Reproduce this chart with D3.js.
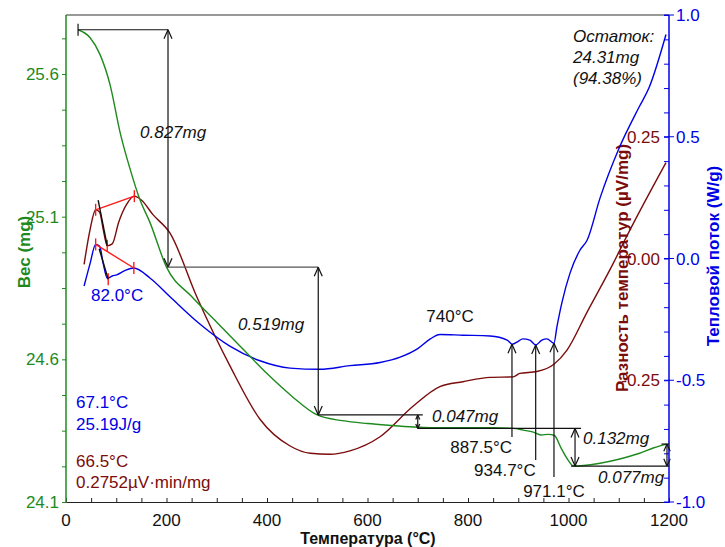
<!DOCTYPE html>
<html>
<head>
<meta charset="utf-8">
<script src="https://cdn.jsdelivr.net/npm/d3@7"></script>
<style>
  body { margin: 0; background: #fff; }
  svg text { font-family: "Liberation Sans", Arial, sans-serif; }
</style>
</head>
<body>
<div class="js-board"></div>
<script>
// TG curve: temperature (°C), mass (mg)
var tgT = [24, 48, 68, 88, 107, 127, 147, 167, 200, 250, 300, 350, 400, 450, 500, 550, 600, 650, 700, 750, 800, 850, 890, 910, 930, 945, 960, 972, 985, 1000, 1010, 1030, 1060, 1100, 1140, 1170, 1195];
var tgMass = [25.755, 25.727, 25.667, 25.56, 25.40, 25.27, 25.16, 25.08, 24.923, 24.82, 24.73, 24.64, 24.55, 24.47, 24.405, 24.385, 24.375, 24.368, 24.362, 24.36, 24.36, 24.36, 24.358, 24.352, 24.345, 24.335, 24.337, 24.333, 24.29, 24.245, 24.226, 24.228, 24.235, 24.25, 24.27, 24.29, 24.303];

// DSC curve: heat flow (W/g)
var dscT = [36, 48, 59, 67, 74, 82, 92, 101, 117, 135, 167, 207, 267, 326, 386, 446, 505, 565, 625, 665, 700, 725, 744, 790, 844, 878, 888, 900, 909, 923, 935, 947, 957, 971, 977, 987, 1003, 1023, 1037, 1063, 1100, 1140, 1160, 1194];
var dscFlow = [-0.113, -0.02, 0.058, 0.05, -0.02, -0.081, -0.072, -0.067, -0.05, -0.039, -0.08, -0.157, -0.27, -0.36, -0.42, -0.45, -0.455, -0.44, -0.427, -0.405, -0.37, -0.33, -0.312, -0.315, -0.318, -0.335, -0.352, -0.34, -0.33, -0.335, -0.355, -0.335, -0.33, -0.348, -0.28, -0.18, -0.06, 0.035, 0.075, 0.25, 0.45, 0.62, 0.70, 0.92];

// DTA curve: temperature difference (µV/mg)
var dtaT = [36, 48, 59, 67, 74, 82, 92, 105, 120, 136, 150, 173, 207, 260, 326, 386, 446, 486, 525, 565, 625, 690, 744, 790, 844, 890, 903, 937, 971, 997, 1037, 1089, 1116, 1194];
var dtaDiff = [-0.012, 0.06, 0.1, 0.095, 0.06, 0.026, 0.03, 0.075, 0.11, 0.128, 0.12, 0.09, 0.052, -0.078, -0.22, -0.33, -0.385, -0.4, -0.402, -0.395, -0.366, -0.304, -0.263, -0.253, -0.244, -0.243, -0.236, -0.232, -0.217, -0.188, -0.11, -0.01, 0.046, 0.197];

var xTicks = [0, 200, 400, 600, 800, 1000, 1200];
var massTicks = [24.1, 24.6, 25.1, 25.6];
var flowTicks = [-1.0, -0.5, 0.0, 0.5, 1.0];
var diffTicks = [-0.25, 0.00, 0.25];

var green = '#1e8a1e', blue = '#0000e6', brown = '#7b0c0c', red = '#ff1a1a';

var width = 725, height = 547;
var padL = 66, padR = 669, padT = 15, padB = 502;

var svg = d3.select('.js-board')
  .append('svg')
  .attr('width', width)
  .attr('height', height);

var x = d3.scaleLinear().domain([0, 1200]).range([padL, padR]);
var yMass = d3.scaleLinear().domain([24.1, 25.6]).range([padB, 74]);
var yFlow = d3.scaleLinear().domain([-1, 1]).range([padB, padT]);
var yDiff = d3.scaleLinear().domain([-0.5, 0.5]).range([padB, padT]);

// frame top line
svg.append('line').attr('x1', padL).attr('x2', padR).attr('y1', padT).attr('y2', padT)
  .attr('stroke', '#333').attr('stroke-width', 1);

// axes
var xAxis = svg.append('g').attr('transform', 'translate(0,' + padB + ')')
  .call(d3.axisBottom(x).tickValues(d3.range(0, 1201, 50)).tickSize(-4).tickFormat(''));
xAxis.selectAll('.tick line').attr('stroke', '#222');
xAxis.select('.domain').attr('stroke', '#222');
xAxis.selectAll('.lbl').data(xTicks).enter().append('text')
  .attr('x', function(d) { return x(d); })
  .attr('y', 24)
  .attr('text-anchor', 'middle')
  .attr('font-size', 17)
  .attr('fill', '#111')
  .text(function(d) { return d; });

var yMassAxis = svg.append('g').attr('transform', 'translate(' + padL + ',0)')
  .call(d3.axisLeft(yMass).tickValues(d3.range(24.1, 25.81, 0.125)).tickSize(4).tickFormat(''));
yMassAxis.select('.domain').attr('d', 'M0,' + padT + 'V' + padB).attr('stroke', green).attr('stroke-width', 1.5);
yMassAxis.selectAll('.tick line').attr('stroke', green);
yMassAxis.selectAll('.lbl').data(massTicks).enter().append('text')
  .attr('x', -7)
  .attr('y', function(d) { return yMass(d) + 6; })
  .attr('text-anchor', 'end')
  .attr('font-size', 17)
  .attr('fill', green)
  .text(function(d) { return d.toFixed(1); });

var yFlowAxis = svg.append('g').attr('transform', 'translate(' + padR + ',0)')
  .call(d3.axisRight(yFlow).tickValues(d3.range(-1, 1.01, 0.1)).tickSize(-5).tickFormat(''));
yFlowAxis.select('.domain').attr('d', 'M0,' + padT + 'V' + padB).attr('stroke', blue).attr('stroke-width', 1.5);
yFlowAxis.selectAll('.tick line').attr('stroke', blue);
yFlowAxis.selectAll('.major').data(flowTicks).enter().append('line')
  .attr('x1', -5).attr('x2', 5)
  .attr('y1', function(d) { return yFlow(d); })
  .attr('y2', function(d) { return yFlow(d); })
  .attr('stroke', blue);
yFlowAxis.selectAll('.lbl').data(flowTicks).enter().append('text')
  .attr('x', 7)
  .attr('y', function(d) { return yFlow(d) + 6; })
  .attr('font-size', 17)
  .attr('fill', blue)
  .text(function(d) { return d.toFixed(1); });

svg.selectAll('.diff-lbl').data(diffTicks).enter().append('text')
  .attr('x', padR - 9)
  .attr('y', function(d) { return yDiff(d) + 6; })
  .attr('text-anchor', 'end')
  .attr('font-size', 17)
  .attr('fill', brown)
  .text(function(d) { return d.toFixed(2); });

// axis titles
svg.append('text').attr('x', 368).attr('y', 544).attr('text-anchor', 'middle')
  .attr('font-size', 16).attr('font-weight', 'bold').attr('fill', '#111')
  .text('Температура (°C)');
svg.append('text').attr('transform', 'translate(30,252) rotate(-90)').attr('text-anchor', 'middle')
  .attr('font-size', 17).attr('font-weight', 'bold').attr('fill', green)
  .text('Вес (mg)');
svg.append('text').attr('transform', 'translate(628,268) rotate(-90)').attr('text-anchor', 'middle')
  .attr('font-size', 17).attr('font-weight', 'bold').attr('fill', brown)
  .text('Разность температур (µV/mg)');
svg.append('text').attr('transform', 'translate(719,256) rotate(-90)').attr('text-anchor', 'middle')
  .attr('font-size', 17).attr('font-weight', 'bold').attr('fill', blue)
  .text('Тепловой поток (W/g)');

// curves
function curve(xs, ys, yScale, color) {
  var pts = xs.map(function(t, i) { return [t, ys[i]]; });
  svg.append('path')
    .datum(pts)
    .attr('fill', 'none')
    .attr('stroke', color)
    .attr('stroke-width', 1.4)
    .attr('d', d3.line()
      .x(function(d) { return x(d[0]); })
      .y(function(d) { return yScale(d[1]); })
      .curve(d3.curveMonotoneX));
}
curve(dtaT, dtaDiff, yDiff, brown);
curve(dscT, dscFlow, yFlow, blue);
curve(tgT, tgMass, yMass, green);

// annotation helpers
function seg(x1, y1, x2, y2, color, w) {
  svg.append('line').attr('x1', x1).attr('y1', y1).attr('x2', x2).attr('y2', y2)
    .attr('stroke', color || '#111').attr('stroke-width', w || 1.2);
}
function arrowHead(px, py, dir, s) {
  // dir: 1 pointing down, -1 pointing up
  s = s || 1;
  seg(px - 4 * s, py - dir * 9 * s, px, py);
  seg(px + 4 * s, py - dir * 9 * s, px, py);
}
function label(tx, ty, txt, opts) {
  opts = opts || {};
  svg.append('text').attr('x', tx).attr('y', ty)
    .attr('font-size', opts.size || 17)
    .attr('font-style', opts.italic ? 'italic' : 'normal')
    .attr('text-anchor', opts.anchor || 'start')
    .attr('fill', opts.color || '#111')
    .text(txt);
}

// 0.827 mg step
var m0 = 25.755, m1 = 24.923, m2 = 24.405, m3 = 24.358, m4 = 24.226, m5 = 24.303;
seg(x(24), yMass(m0), x(203), yMass(m0));
seg(x(24), yMass(m0) - 6, x(24), yMass(m0) + 6);
seg(x(203), yMass(m0), x(203), yMass(m1));
arrowHead(x(203), yMass(m1), 1);
arrowHead(x(203), yMass(m0), -1);
label(140, 138, '0.827mg', { italic: true });

// 0.519 mg step
seg(x(200), yMass(m1), x(502), yMass(m1), '#555');
seg(x(502), yMass(m1), x(502), yMass(m2));
arrowHead(x(502), yMass(m2), 1);
arrowHead(x(502), yMass(m1), -1);
label(238, 330, '0.519mg', { italic: true });

// 0.047 mg step
seg(x(502), yMass(m2), x(710), yMass(m2));
seg(x(700), yMass(m2), x(700), yMass(m3));
arrowHead(x(700), yMass(m3), 1, 0.5);
arrowHead(x(700), yMass(m2), -1, 0.5);
label(432, 422, '0.047mg', { italic: true });

// 0.132 mg step
seg(x(700), yMass(m3), x(1025), yMass(m3));
seg(x(1013), yMass(m3), x(1013), yMass(m4));
arrowHead(x(1013), yMass(m4), 1);
arrowHead(x(1013), yMass(m3), -1);
seg(x(1005), yMass(m4), x(1200), yMass(m4));
label(583, 444, '0.132mg', { italic: true });

// 0.077 mg step
seg(x(1185), yMass(m5), x(1200), yMass(m5));
seg(x(1196), yMass(m5), x(1196), yMass(m4));
arrowHead(x(1196), yMass(m4), 1, 0.8);
arrowHead(x(1196), yMass(m5), -1, 0.8);
label(598, 483, '0.077mg', { italic: true });

// peak markers on DSC curve
var peaks = [[887.5, -0.352, 437], [934.7, -0.355, 460], [971.1, -0.348, 477]];
peaks.forEach(function(p) {
  seg(x(p[0]), p[2], x(p[0]), yFlow(p[1]));
  arrowHead(x(p[0]), yFlow(p[1]), -1);
});
label(x(887.5), 453, '887.5°C', { anchor: 'end' });
label(x(934.7), 476, '934.7°C', { anchor: 'end' });
label(x(971.1), 497, '971.1°C', { anchor: 'middle' });
label(450, 322, '740°C', { anchor: 'middle' });

// endothermic peak integration near 70 °C
function peakMarks(yScale, t1, v1, t2, v2, tm, vm, tb, vb) {
  seg(x(t1), yScale(v1), x(t2), yScale(v2), red, 1.4);
  [[t1, v1], [t2, v2], [tm, vm]].forEach(function(p) {
    seg(x(p[0]), yScale(p[1]) - 6, x(p[0]), yScale(p[1]) + 6, red, 1.4);
  });
  seg(x(tb), yScale(vb), x(tm), yScale(vm), '#111', 1.4);
}
peakMarks(yDiff, 59, 0.1, 136, 0.128, 82, 0.026, 64, 0.12);
peakMarks(yFlow, 59, 0.058, 135, -0.039, 84, -0.085, 66, 0.04);

label(91, 301, '82.0°C', { color: blue });
label(76, 408, '67.1°C', { color: blue });
label(76, 430, '25.19J/g', { color: blue });
label(76, 467, '66.5°C', { color: brown });
label(76, 488, '0.2752µV·min/mg', { color: brown });

label(573, 42, 'Остаток:', { italic: true });
label(573, 63, '24.31mg', { italic: true });
label(573, 84, '(94.38%)', { italic: true });
</script>
</body>
</html>
